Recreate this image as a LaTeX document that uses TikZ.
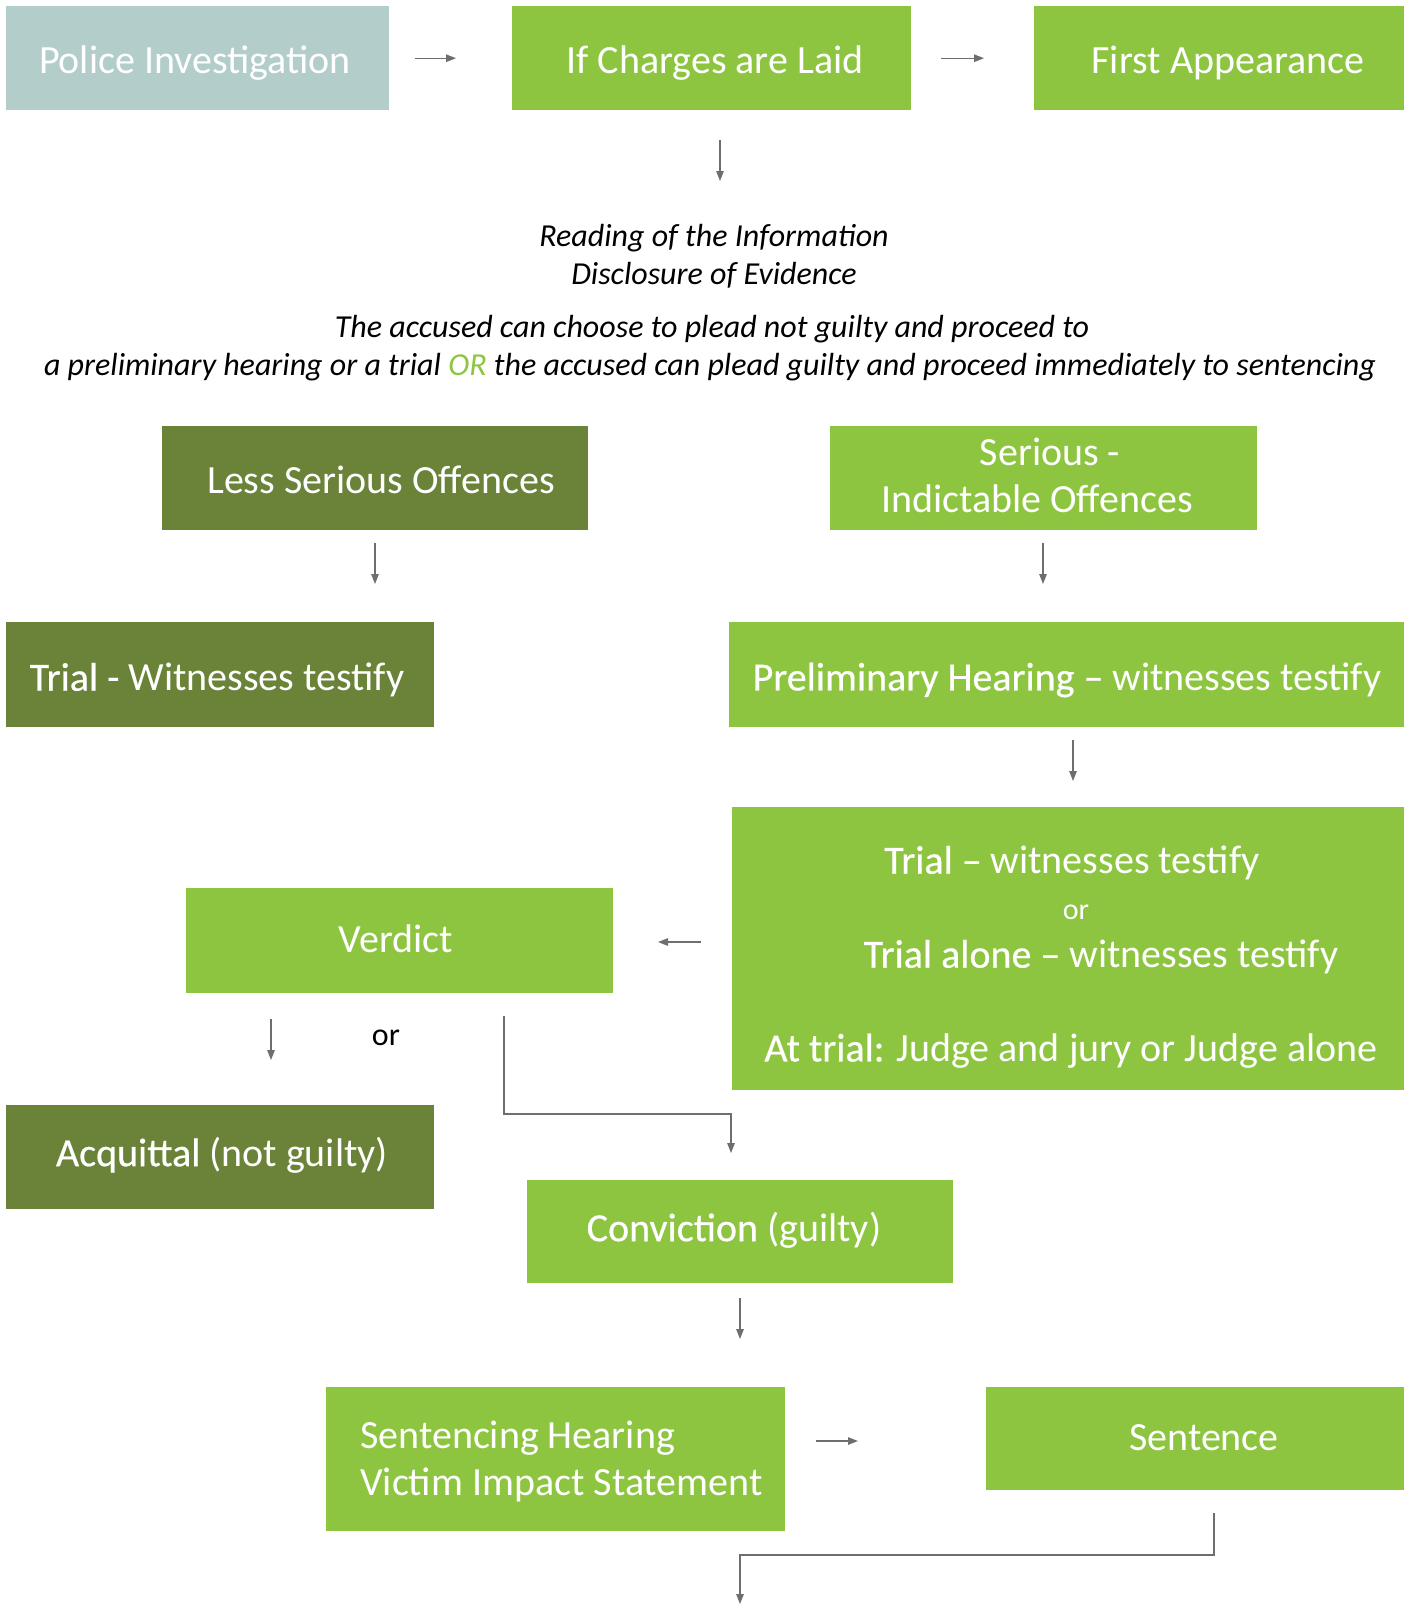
\documentclass[tikz,border=0pt]{standalone}
\usepackage{fontspec}
\setmainfont{Carlito}
\newfontfamily\hv[FakeBold=0.5]{Carlito}
\usetikzlibrary{arrows.meta}
\definecolor{lg}{HTML}{8DC540}
\definecolor{dg}{HTML}{6A8339}
\definecolor{gt}{HTML}{B3CDCA}
\definecolor{ac}{HTML}{6D6E71}
\begin{document}
\begin{tikzpicture}[x=1pt,y=-1pt,
  box/.style={draw=none, inner sep=0pt, anchor=north west, text=white,
    font=\fontsize{40}{47}\selectfont, align=center},
  light/.style={box, fill=lg},
  dark/.style={box, fill=dg},
  txt/.style={inner sep=0pt, text=white, font=\fontsize{40}{47}\selectfont},
  arr/.style={draw=ac, line width=1.3pt, -{Triangle[length=10pt,width=7.5pt]}},
  it/.style={inner sep=0pt, text=black, font=\fontsize{32}{38}\selectfont\itshape, align=center}]
\useasboundingbox (0,0) rectangle (1406,1604);

% top row
\node[box, fill=gt, minimum width=383pt, minimum height=104pt] (police) at (6,6) {};
\node[txt] (policet) at (195,63) {Police Investigation};
\node[light, minimum width=399pt, minimum height=104pt] (charges) at (512,6) {};
\node[txt] (chargest) at (715,63) {If Charges are Laid};
\node[light, minimum width=370pt, minimum height=104pt] (first) at (1034,6) {};
\node[txt] (firstt) at (1228,63) {First Appearance};

\draw[arr, shorten <=26pt, shorten >=56pt] (police.east) -- (charges.west);
\draw[arr, shorten <=30pt, shorten >=50pt] (charges.east) -- (first.west);

\coordinate (d1a) at (720,140);
\coordinate (d1b) at (720,181);
\draw[arr] (d1a) -- (d1b);

% italic text
\node[it] (read) at (714,238) {Reading of the Information};
\node[it] (disc) at (714,275) {Disclosure of Evidence};
\node[it] (acc1) at (712,329) {The accused can choose to plead not guilty and proceed to};
\node[it] (acc2) at (710,367) {a preliminary hearing or a trial \textcolor{lg}{OR} the accused can plead guilty and proceed immediately to sentencing};

% offence boxes
\node[dark, minimum width=426pt, minimum height=104pt] (less) at (162,426) {};
\node[txt] (lesst) at (381,480) {Less Serious Offences};
\node[light, minimum width=427pt, minimum height=104pt] (serious) at (830,426) {};
\node[txt, align=center] (serioust) at (1037,475) {\hspace*{26pt}Serious -\\ Indictable Offences};

\coordinate (d2a) at (375,543);
\coordinate (d2b) at (375,584);
\draw[arr] (d2a) -- (d2b);
\coordinate (d3a) at (1043,543);
\coordinate (d3b) at (1043,584);
\draw[arr] (d3a) -- (d3b);

% trial / prelim
\node[dark, minimum width=428pt, minimum height=105pt] (trialw) at (6,622) {};
\node[txt] (trialwt) at (217,680) {{\hv Trial -} Witnesses testify};
\node[light, minimum width=675pt, minimum height=105pt] (prelim) at (729,622) {};
\node[txt] (prelimt) at (1067,680) {{\hv Preliminary Hearing –} witnesses testify};

\coordinate (d4a) at (1073,740);
\coordinate (d4b) at (1073,781);
\draw[arr] (d4a) -- (d4b);

% big trial box
\node[light, minimum width=672pt, minimum height=283pt] (big) at (732,807) {};
\node[txt] (bt1) at (1072,863) {{\hv Trial –} witnesses testify};
\node[txt, font=\fontsize{30}{34}\selectfont] (bt2) at (1076,912) {or};
\node[txt] (bt3) at (1101,957) {{\hv Trial alone –} witnesses testify};
\node[txt] (bt4) at (1071,1051) {{\hv At trial:} Judge and jury or Judge alone};

% verdict
\node[light, minimum width=427pt, minimum height=105pt] (verdict) at (186,888) {};
\node[txt] (verdictt) at (396,939) {Verdict};
\coordinate (l1a) at (701,942);
\coordinate (l1b) at (658,942);
\draw[arr] (l1a) -- (l1b);

\coordinate (d5a) at (271,1019);
\coordinate (d5b) at (271,1060);
\draw[arr] (d5a) -- (d5b);
\node[inner sep=0pt, font=\fontsize{32}{36}\selectfont] (ortext) at (386,1038) {or};

\coordinate (e1a) at (504,1016);
\coordinate (e1b) at (731,1153);
\draw[arr] (e1a) |- (731,1114) -- (e1b);

% acquittal / conviction
\node[dark, minimum width=428pt, minimum height=104pt] (acquit) at (6,1105) {};
\node[txt] (acquitt) at (222,1155) {{\hv Acquittal} (not guilty)};
\node[light, minimum width=426pt, minimum height=103pt] (convict) at (527,1180) {};
\node[txt] (convictt) at (734,1230) {{\hv Conviction} (guilty)};

\coordinate (d6a) at (740,1298);
\coordinate (d6b) at (740,1339);
\draw[arr] (d6a) -- (d6b);

% sentencing
\node[light, minimum width=459pt, minimum height=144pt] (senth) at (326,1387) {};
\node[txt, anchor=west, align=left] (sentht) at (360,1461) {Sentencing Hearing\\Victim Impact Statement};
\node[light, minimum width=418pt, minimum height=103pt] (sent) at (986,1387) {};
\node[txt] (sentt) at (1204,1438) {Sentence};

\coordinate (r1a) at (816,1441);
\coordinate (r1b) at (858,1441);
\draw[arr] (r1a) -- (r1b);

\coordinate (e2a) at (1214,1513);
\coordinate (e2b) at (740,1604);
\draw[arr] (e2a) -- (1214,1555) -| (e2b);
\end{tikzpicture}
\end{document}
